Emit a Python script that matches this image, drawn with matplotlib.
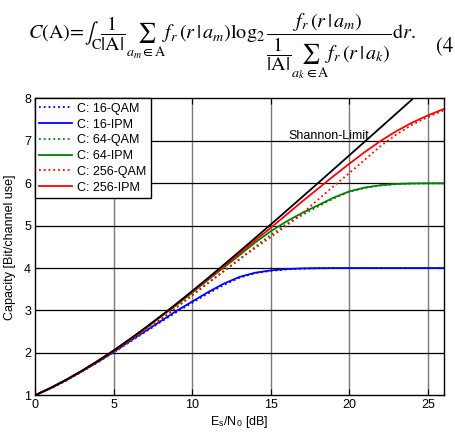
import matplotlib
matplotlib.use("Agg")
import matplotlib.pyplot as plt

plt.rcParams['font.family'] = ['Liberation Sans', 'DejaVu Sans']
plt.rcParams['mathtext.fontset'] = 'stix'

# ---- data ----
snr_db = [0, 1, 2, 3, 4, 5, 6, 7, 8, 9, 10, 11, 12, 13, 14, 15, 16, 17, 18, 19, 20, 21, 22, 23, 24, 25, 26]
shannon = [1.000, 1.176, 1.370, 1.583, 1.812, 2.057, 2.317, 2.588, 2.870, 3.161, 3.459, 3.764, 4.075,
           4.389, 4.707, 5.028, 5.351, 5.676, 6.002, 6.330, 6.658, 6.988, 7.317, 7.647, 7.978, 8.309, 8.640]
qam16 = [1.0, 1.16, 1.35, 1.56, 1.78, 2.01, 2.25, 2.49, 2.73, 2.96, 3.18, 3.40, 3.60, 3.77, 3.88, 3.935,
         3.97, 3.988, 3.996, 4.0, 4.0, 4.0, 4.0, 4.0, 4.0, 4.0, 4.0]
ipm16 = [1.0, 1.17, 1.36, 1.57, 1.79, 2.02, 2.27, 2.51, 2.75, 2.99, 3.21, 3.43, 3.63, 3.79, 3.89, 3.945,
         3.978, 3.992, 3.998, 4.0, 4.0, 4.0, 4.0, 4.0, 4.0, 4.0, 4.0]
qam64 = [1.0, 1.17, 1.36, 1.57, 1.79, 2.02, 2.27, 2.52, 2.79, 3.07, 3.36, 3.64, 3.92, 4.20, 4.50, 4.78,
         5.04, 5.25, 5.45, 5.64, 5.80, 5.89, 5.95, 5.98, 5.995, 6.0, 6.0]
ipm64 = [1.0, 1.175, 1.37, 1.58, 1.81, 2.05, 2.31, 2.57, 2.85, 3.13, 3.42, 3.72, 4.01, 4.30, 4.60, 4.87,
         5.10, 5.30, 5.48, 5.66, 5.81, 5.90, 5.955, 5.985, 5.996, 6.0, 6.0]
qam256 = [1.0, 1.17, 1.36, 1.57, 1.79, 2.02, 2.27, 2.52, 2.79, 3.07, 3.36, 3.65, 3.93, 4.21, 4.47, 4.73,
          5.00, 5.29, 5.61, 5.93, 6.24, 6.56, 6.88, 7.15, 7.38, 7.56, 7.72]
ipm256 = [1.0, 1.175, 1.37, 1.58, 1.81, 2.05, 2.31, 2.58, 2.86, 3.15, 3.44, 3.74, 4.04, 4.34, 4.65, 4.95,
          5.26, 5.57, 5.87, 6.17, 6.46, 6.74, 7.00, 7.23, 7.43, 7.60, 7.75]

series = [
    ("C: 16-QAM", qam16, "#0000ff", ":"),
    ("C: 16-IPM", ipm16, "#0000ff", "-"),
    ("C: 64-QAM", qam64, "#008000", ":"),
    ("C: 64-IPM", ipm64, "#008000", "-"),
    ("C: 256-QAM", qam256, "#ff0000", ":"),
    ("C: 256-IPM", ipm256, "#ff0000", "-"),
]
x_ticks = [0, 5, 10, 15, 20, 25]
y_ticks = [1, 2, 3, 4, 5, 6, 7, 8]

fig = plt.figure(figsize=(4.56, 4.32), dpi=100)
ax = fig.add_axes([0.077, 0.085, 0.8956, 0.687])

for lbl, ys, col, ls in series:
    ax.plot(snr_db, ys, color=col, linestyle=ls, linewidth=1.3, label=lbl, zorder=3)
ax.plot(snr_db, shannon, color='black', linewidth=1.3, zorder=4)

ax.set_xlim(0, 26)
ax.set_ylim(1, 8)
ax.set_xticks(x_ticks)
ax.set_yticks(y_ticks)
for xv in x_ticks[1:]:
    ax.axvline(xv, color='#7a7a7a', linewidth=1.0, zorder=1)
for yv in y_ticks[1:-1]:
    ax.axhline(yv, color='black', linewidth=0.9, zorder=1)
ax.tick_params(direction='in', top=True, right=True, labelsize=9, length=4, pad=3)
for s in ax.spines.values():
    s.set_linewidth(1.0)

ax.text(16.15, 7.12, "Shannon-Limit", fontsize=9, ha='left', va='center')

ax.set_xlabel(r"E$_\mathregular{s}$/N$_\mathregular{0}$ [dB]", fontsize=9, labelpad=2)
ax.set_ylabel("Capacity [Bit/channel use]", fontsize=9, labelpad=6)

leg = ax.legend(loc='upper left', fontsize=9, frameon=True, fancybox=False, edgecolor='black',
                framealpha=1, borderaxespad=0, handlelength=2.6, labelspacing=0.3,
                borderpad=0.35, handletextpad=0.4)
leg.get_frame().set_linewidth(1.0)

formula = (r"$C(\mathrm{A})\!=\!\int_{\mathrm{C}}\dfrac{1}{\left|\mathrm{A}\right|}"
           r"\sum_{a_m\in\mathrm{A}} f_r\,(r\,|\,a_m)\log_2"
           r"\dfrac{f_r\,(r\,|\,a_m)}"
           r"{\dfrac{1}{\left|\mathrm{A}\right|}\sum_{a_k\in\mathrm{A}} f_r\,(r\,|\,a_k)}"
           r"\mathrm{d}r.$")
fig.text(0.062, 0.893, formula, fontsize=14.5, ha='left', va='center')
fig.text(0.956, 0.893, "(4", fontsize=15, ha='left', va='center', family='STIXGeneral')

fig.savefig("out.png", dpi=100)
